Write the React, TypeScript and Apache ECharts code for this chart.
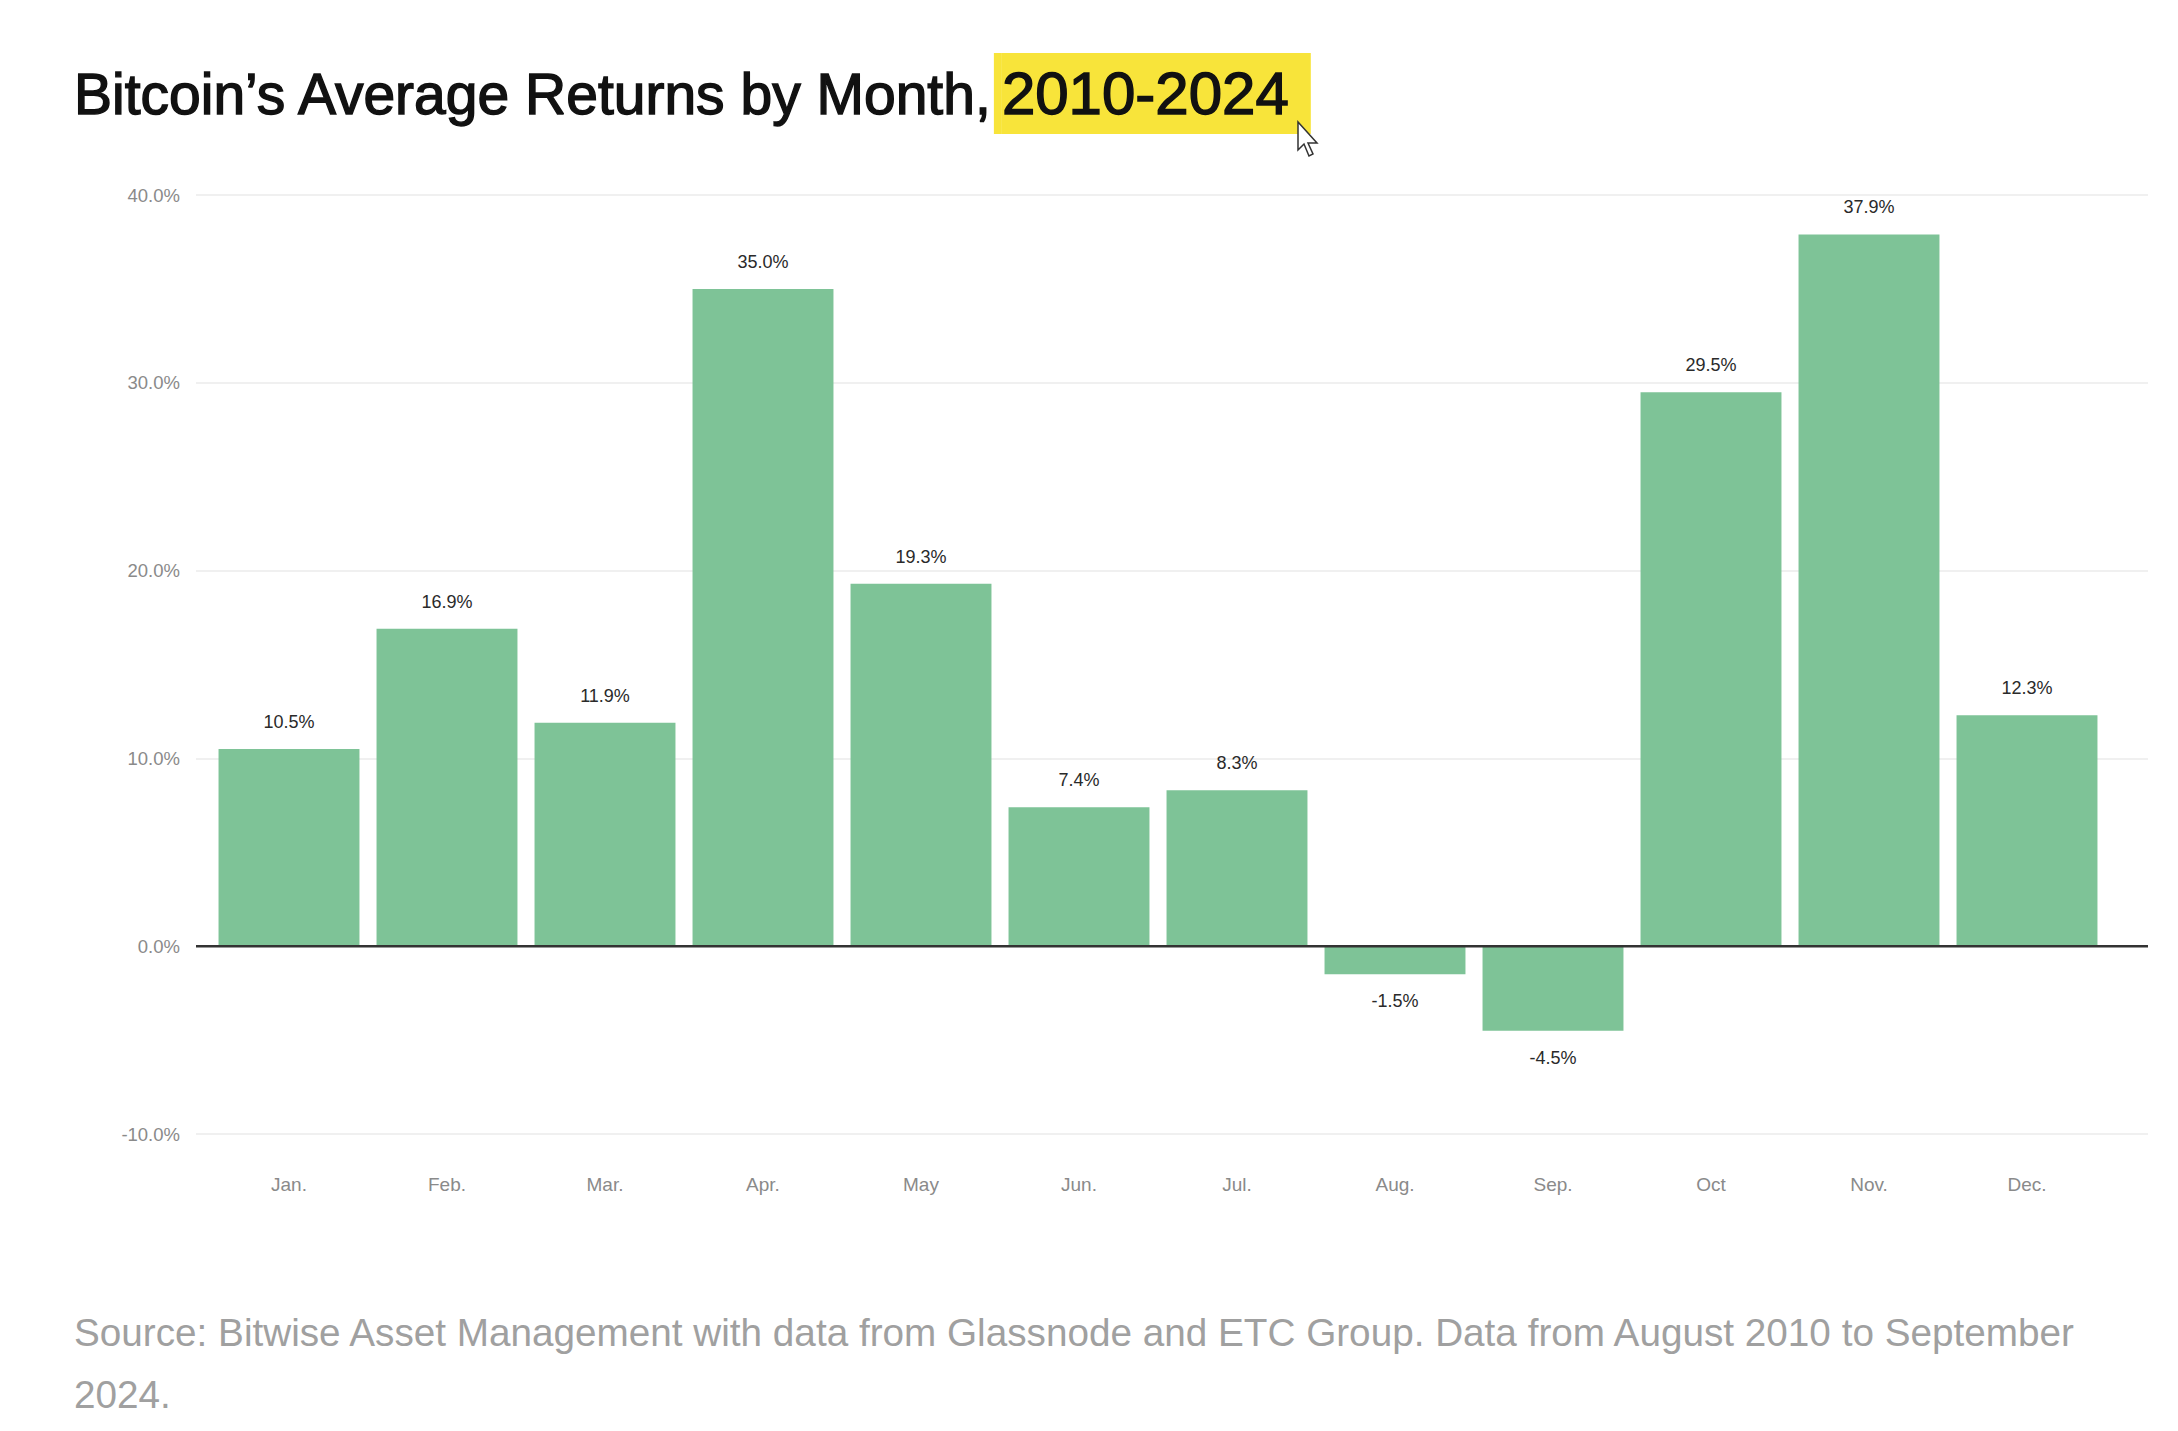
import React, { useEffect, useRef } from "react";
import * as echarts from "echarts";

const months = ["Jan.", "Feb.", "Mar.", "Apr.", "May", "Jun.", "Jul.", "Aug.", "Sep.", "Oct", "Nov.", "Dec."];
const avgReturns = [10.5, 16.9, 11.9, 35.0, 19.3, 7.4, 8.3, -1.5, -4.5, 29.5, 37.9, 12.3];
const yMin = -10;
const yMax = 40;
const yStep = 10;
const titleMain = "Bitcoin’s Average Returns by Month,";
const titleYears = "2010-2024";
const sourceLine1 = "Source: Bitwise Asset Management with data from Glassnode and ETC Group. Data from August 2010 to September";
const sourceLine2 = "2024.";

const FONT = "'Liberation Sans', Arial, sans-serif";
const GREEN = "#7EC397";
const YELLOW = "#F8E43A";

export default function App() {
  const ref = useRef<HTMLDivElement>(null);
  useEffect(() => {
    if (!ref.current) return;
    const chart = echarts.init(ref.current, null, { renderer: "svg" });
    const fmt = (v: number) => v.toFixed(1) + "%";
    chart.setOption({
      animation: false,
      backgroundColor: "#ffffff",
      textStyle: { fontFamily: FONT },
      grid: [
        { left: 196, right: 30, top: 195, bottom: 297 },
        { left: 210, right: 72, top: 195, bottom: 297 },
      ],
      xAxis: [
        { type: "value", gridIndex: 0, min: 0, max: 1, show: false },
        {
          type: "category",
          gridIndex: 1,
          data: months,
          axisLine: { show: false },
          axisTick: { show: false },
          axisLabel: { color: "#8a8a8a", fontSize: 19, margin: 41, fontFamily: FONT },
        },
      ],
      yAxis: [
        {
          type: "value",
          gridIndex: 0,
          min: yMin,
          max: yMax,
          interval: yStep,
          axisLine: { show: false },
          axisTick: { show: false },
          axisLabel: { color: "#8a8a8a", fontSize: 18.5, margin: 16, formatter: fmt, fontFamily: FONT },
          splitLine: { lineStyle: { color: "#ebebeb", width: 1.5 } },
        },
        { type: "value", gridIndex: 1, min: yMin, max: yMax, interval: yStep, show: false, splitLine: { show: false } },
      ],
      series: [
        {
          type: "bar",
          xAxisIndex: 1,
          yAxisIndex: 1,
          barCategoryGap: "10.8%",
          itemStyle: { color: GREEN },
          data: avgReturns.map((v) => ({
            value: v,
            label: { position: v < 0 ? "bottom" : "top" },
          })),
          label: {
            show: true,
            distance: 18,
            color: "#2a2a2a",
            fontSize: 18,
            fontFamily: FONT,
            formatter: (p: any) => fmt(p.value),
          },
          z: 2,
        },
        {
          type: "line",
          xAxisIndex: 0,
          yAxisIndex: 0,
          data: [
            [0, 0],
            [1, 0],
          ],
          symbol: "none",
          lineStyle: { color: "#333333", width: 2.5 },
          z: 5,
          silent: true,
        },
      ],
      graphic: [
        {
          type: "text",
          x: 74,
          y: 53,
          z: 2,
          style: {
            text: "{a|" + titleMain + "}{s| }{b|" + titleYears + "}",
            fontFamily: FONT,
            fontSize: 57,
            fill: "#111111",
            verticalAlign: "top",
            rich: {
              a: {
                fontFamily: FONT,
                fontSize: 57,
                fill: "#111111",
                stroke: "#111111",
                lineWidth: 1.4,
                height: 81,
                lineHeight: 81,
              },
              s: {
                fontFamily: FONT,
                fontSize: 57,
                width: 8,
                height: 81,
                lineHeight: 81,
                backgroundColor: YELLOW,
              },
              b: {
                fontFamily: FONT,
                fontSize: 60,
                fill: "#111111",
                stroke: "#111111",
                lineWidth: 1.4,
                height: 81,
                lineHeight: 81,
                backgroundColor: YELLOW,
                padding: [0, 22, 0, 0],
              },
            },
          },
        },
        {
          type: "polygon",
          z: 3,
          shape: {
            points: [
              [1298, 122],
              [1298, 150],
              [1304, 144],
              [1309, 156],
              [1313, 154],
              [1308, 143],
              [1317, 143],
            ],
          },
          style: { fill: "#ffffff", stroke: "#333333", lineWidth: 1.5 },
        },
        {
          type: "text",
          x: 74,
          y: 1332,
          style: {
            text: sourceLine1,
            fontFamily: FONT,
            fontSize: 38.7,
            fill: "#a0a0a0",
            verticalAlign: "middle",
          },
        },
        {
          type: "text",
          x: 74,
          y: 1394,
          style: {
            text: sourceLine2,
            fontFamily: FONT,
            fontSize: 38.7,
            fill: "#a0a0a0",
            verticalAlign: "middle",
          },
        },
      ],
    });
    return () => chart.dispose();
  }, []);
  return (
    <div
      ref={ref}
      style={{ position: "absolute", left: 0, top: 0, width: 2178, height: 1431, background: "#fff" }}
    />
  );
}
